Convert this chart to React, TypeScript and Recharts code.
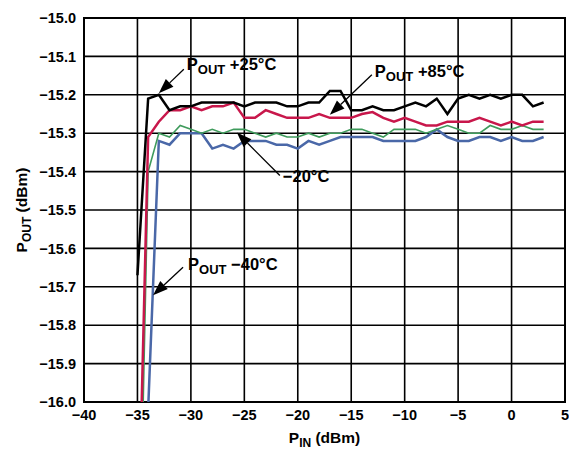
import React from 'react';
import {
  LineChart,
  Line,
  XAxis,
  YAxis,
  CartesianGrid,
  ReferenceArea,
  ReferenceDot,
  Label,
} from 'recharts';

// input power, dBm
const pin = [
  -35, -34, -33, -32, -31, -30, -29, -28, -27, -26, -25, -24, -23, -22, -21, -20, -19, -18, -17, -16,
  -15, -14, -13, -12, -11, -10, -9, -8, -7, -6, -5, -4, -3, -2, -1, 0, 1, 2, 3,
];

// output power, dBm, per temperature
const pout25 = [
  -15.67, -15.21, -15.2, -15.24, -15.23, -15.23, -15.22, -15.22, -15.22, -15.22, -15.23, -15.22, -15.22,
  -15.22, -15.23, -15.23, -15.22, -15.22, -15.19, -15.19, -15.24, -15.24, -15.23, -15.24, -15.24, -15.23,
  -15.22, -15.23, -15.21, -15.25, -15.21, -15.2, -15.21, -15.2, -15.21, -15.2, -15.2, -15.23, -15.22,
];
const pout85 = [
  -16.46, -15.31, -15.27, -15.24, -15.24, -15.23, -15.24, -15.23, -15.23, -15.22, -15.26, -15.26, -15.24,
  -15.25, -15.26, -15.26, -15.26, -15.25, -15.26, -15.26, -15.26, -15.25, -15.245, -15.26, -15.27, -15.26,
  -15.27, -15.28, -15.28, -15.27, -15.27, -15.27, -15.26, -15.27, -15.28, -15.27, -15.28, -15.27, -15.27,
];
const poutM20 = [
  -16.7, -15.4, -15.3, -15.31, -15.28, -15.29, -15.3, -15.29, -15.3, -15.29, -15.29, -15.3, -15.31, -15.3,
  -15.31, -15.31, -15.3, -15.31, -15.3, -15.3, -15.29, -15.29, -15.3, -15.31, -15.29, -15.29, -15.29,
  -15.3, -15.29, -15.28, -15.29, -15.3, -15.3, -15.28, -15.29, -15.29, -15.28, -15.29, -15.29,
];
const poutM40 = [
  -16.6, -16.02, -15.32, -15.33, -15.3, -15.3, -15.3, -15.34, -15.33, -15.34, -15.32, -15.32, -15.32,
  -15.33, -15.33, -15.34, -15.32, -15.33, -15.32, -15.31, -15.31, -15.31, -15.31, -15.32, -15.32, -15.32,
  -15.32, -15.31, -15.29, -15.31, -15.32, -15.32, -15.31, -15.31, -15.32, -15.31, -15.32, -15.32, -15.31,
];

const xTicks = [-40, -35, -30, -25, -20, -15, -10, -5, 0, 5];
const yTicks = [-16, -15.9, -15.8, -15.7, -15.6, -15.5, -15.4, -15.3, -15.2, -15.1, -15];

const data = pin.map((x, i) => ({
  pin: x,
  p25: pout25[i],
  p85: pout85[i],
  m20: poutM20[i],
  m40: poutM40[i],
}));

const FONT = '"Liberation Sans", Arial, Helvetica, sans-serif';

const minus = (s: string) => s.replace('-', '\u2212');

function XTick({ x, y, payload }: any) {
  return (
    <text x={x} y={y} dy="0.71em" textAnchor="middle" fontFamily={FONT} fontWeight="bold" fontSize={14.5} fill="#000">
      {minus(String(payload.value))}
    </text>
  );
}

function YTick({ x, y, payload }: any) {
  return (
    <text x={x} y={y} dy="0.355em" textAnchor="end" fontFamily={FONT} fontWeight="bold" fontSize={14.5} fill="#000">
      {minus(Number(payload.value).toFixed(1))}
    </text>
  );
}

// callout: arrow pointing at (cx, cy) from an offset, with text next to it
function callout(dx: number, dy: number, main: string, sub: string, rest: string, tx: number, ty: number) {
  return (props: any) => {
    const { cx, cy } = props;
    const sx = cx + dx;
    const sy = cy + dy;
    const len = Math.hypot(dx, dy);
    const ux = -dx / len;
    const uy = -dy / len;
    const hl = 15;
    const hw = 5.5;
    const bx = cx - ux * hl;
    const by = cy - uy * hl;
    const pts = `${cx},${cy} ${bx - uy * hw},${by + ux * hw} ${bx + uy * hw},${by - ux * hw}`;
    return (
      <g>
        <line x1={sx} y1={sy} x2={bx} y2={by} stroke="#000" strokeWidth={1.3} />
        <polygon points={pts} fill="#000" />
        <text x={sx + tx} y={sy + ty} fontFamily={FONT} fontWeight="bold" fontSize={16.5} fill="#000">
          <tspan>{main}</tspan>
          {sub && (
            <tspan dy={4} fontSize={13}>
              {sub}
            </tspan>
          )}
          <tspan dy={sub ? -4 : 0}>{rest}</tspan>
        </text>
      </g>
    );
  };
}

export default function App() {
  return (
    <LineChart width={569} height={442} data={data} margin={{ top: 10, right: 12, left: 0, bottom: 0 }}>
      <CartesianGrid stroke="#000" strokeWidth={1.6} horizontalValues={yTicks} verticalValues={xTicks} />
      <XAxis
        dataKey="pin"
        type="number"
        domain={[-40, 5]}
        ticks={xTicks}
        tick={<XTick />}
        tickLine={false}
        axisLine={false}
        height={48}
        interval={0}
      >
        <Label
          content={({ viewBox }: any) => (
            <text
              x={viewBox.x + viewBox.width / 2}
              y={viewBox.y + 41}
              textAnchor="middle"
              fontFamily={FONT}
              fontWeight="bold"
              fontSize={15.5}
              fill="#000"
            >
              <tspan>P</tspan>
              <tspan dy={4} fontSize={12}>IN</tspan>
              <tspan dy={-4}> (dBm)</tspan>
            </text>
          )}
        />
      </XAxis>
      <YAxis
        type="number"
        domain={[-16, -15]}
        ticks={yTicks}
        tick={<YTick />}
        tickLine={false}
        axisLine={false}
        width={76}
        allowDataOverflow
        interval={0}
      >
        <Label
          content={({ viewBox }: any) => {
            const cx = viewBox.x + 19;
            const cy = viewBox.y + viewBox.height / 2;
            return (
              <text
                x={cx}
                y={cy}
                transform={`rotate(-90 ${cx} ${cy})`}
                textAnchor="middle"
                fontFamily={FONT}
                fontWeight="bold"
                fontSize={15.5}
                fill="#000"
              >
                <tspan>P</tspan>
                <tspan dy={4} fontSize={12}>OUT</tspan>
                <tspan dy={-4}> (dBm)</tspan>
              </text>
            );
          }}
        />
      </YAxis>
      <ReferenceArea x1={-40} x2={5} y1={-16} y2={-15} fill="none" stroke="#000" strokeWidth={2} fillOpacity={0} />
      <Line dataKey="m40" stroke="#4a68a8" strokeWidth={2.5} dot={false} type="linear" isAnimationActive={false} />
      <Line dataKey="m20" stroke="#3f9b5c" strokeWidth={1.6} dot={false} type="linear" isAnimationActive={false} />
      <Line dataKey="p85" stroke="#c8174b" strokeWidth={2.5} dot={false} type="linear" isAnimationActive={false} />
      <Line dataKey="p25" stroke="#000" strokeWidth={2.5} dot={false} type="linear" isAnimationActive={false} />
      <ReferenceDot x={-33} y={-15.196} r={0} shape={callout(25, -24, 'P', 'OUT', ' +25°C', 3, 1)} />
      <ReferenceDot x={-17} y={-15.252} r={0} shape={callout(42, -40, 'P', 'OUT', ' +85°C', 3, 2)} />
      <ReferenceDot x={-25.7} y={-15.298} r={0} shape={callout(43, 43, '\u221220°C', '', '', 3, 7)} />
      <ReferenceDot x={-33.54} y={-15.722} r={0} shape={callout(30, -28, 'P', 'OUT', ' \u221240°C', 5, 3)} />
    </LineChart>
  );
}
